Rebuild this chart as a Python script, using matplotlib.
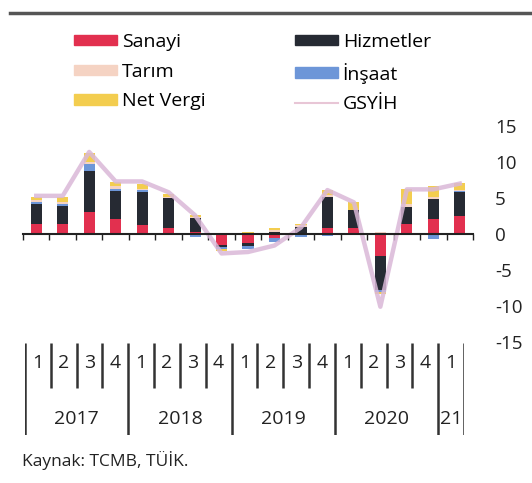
import numpy as np
import matplotlib.pyplot as plt
from matplotlib.patches import Patch
from matplotlib.lines import Line2D

plt.rcParams['font.family'] = ['Open Sans', 'DejaVu Sans']
plt.rcParams['axes.unicode_minus'] = False

# quarters 2017Q1 .. 2021Q1
quarters = ['1', '2', '3', '4', '1', '2', '3', '4', '1', '2', '3', '4',
            '1', '2', '3', '4', '1']
years = ['2017', '2018', '2019', '2020', '21']
year_sizes = [4, 4, 4, 4, 1]

# contributions to growth (pct points)
sanayi = [1.4, 1.4, 3.0, 2.1, 1.3, 0.9, 0.3, -1.5, -1.2, -0.5, 0.2, 0.8,
          0.8, -3.0, 1.4, 2.1, 2.5]
hizmetler = [2.8, 2.5, 5.7, 3.9, 4.6, 4.1, 1.9, -0.3, -0.4, 0.3, 0.8, 4.3,
             2.5, -4.8, 2.3, 2.8, 3.3]
insaat = [0.2, 0.2, 1.0, 0.3, 0.2, 0.0, -0.4, -0.3, -0.5, -0.6, -0.4, -0.3,
          -0.1, -0.3, 0.0, -0.7, 0.2]
tarim = [0.3, 0.4, 0.3, 0.4, 0.2, 0.1, 0.2, 0.1, 0.2, 0.3, 0.2, 0.3,
         0.1, 0.3, 0.4, 0.3, 0.1]
net_vergi = [0.5, 0.6, 1.2, 0.5, 0.7, 0.4, 0.3, -0.3, 0.1, 0.2, 0.2, 0.7,
             1.0, -0.2, 2.1, 1.4, 1.0]
gsyih = [5.3, 5.3, 11.4, 7.3, 7.3, 5.8, 2.6, -2.7, -2.5, -1.6, 0.9, 6.1,
         4.4, -10.1, 6.2, 6.2, 7.0]

components = [
    ('Sanayi', sanayi, '#e2304f'),
    ('Hizmetler', hizmetler, '#262a33'),
    ('İnşaat', insaat, '#6d96d8'),
    ('Tarım', tarim, '#f5d3c3'),
    ('Net Vergi', net_vergi, '#f3cd4f'),
]
line_color = '#dab8d8'

W, H = 532, 483
fig = plt.figure(figsize=(W / 100, H / 100), dpi=100)
ax = fig.add_axes([23 / W, 1 - 342 / H, 450 / W, 216 / H])

x = np.arange(len(quarters))
pos_base = np.zeros(len(x))
neg_base = np.zeros(len(x))
for name, vals, col in components:
    v = np.array(vals)
    base = np.where(v >= 0, pos_base, neg_base)
    ax.bar(x, v, 0.42, bottom=base, color=col, zorder=2)
    pos_base += np.clip(v, 0, None)
    neg_base += np.clip(v, None, 0)

ax.plot(x, gsyih, color=line_color, lw=3.2, alpha=0.85, zorder=3,
        solid_joinstyle='round')

ax.set_xlim(-0.5, len(x) - 0.5)
ax.set_ylim(-15, 15)
for s in ['top', 'left', 'right']:
    ax.spines[s].set_visible(False)
ax.spines['bottom'].set_position(('data', 0))
ax.spines['bottom'].set_linewidth(1.5)
ax.spines['bottom'].set_color('#222222')
ax.spines['bottom'].set_zorder(4)
ax.set_xticks([])
ax.set_xticks(np.arange(-0.5, len(x), 1), minor=True)
ax.tick_params(axis='x', which='minor', length=4, width=1, direction='out',
               color='#222222')
ax.yaxis.tick_right()
ax.set_yticks([-15, -10, -5, 0, 5, 10, 15])
ax.tick_params(axis='y', length=0, pad=16, labelsize=13.5, labelcolor='#222222')

# legend (column-wise fill: left column first)
handles = [Patch(color=components[0][2]), Patch(color=components[3][2]),
           Patch(color=components[4][2]), Patch(color=components[1][2]),
           Patch(color=components[2][2]), Line2D([], [], color='#e8c6d6', lw=1.5)]
labels = ['Sanayi', 'Tarım', 'Net Vergi', 'Hizmetler', 'İnşaat', 'GSYİH']
ax.legend(handles, labels, ncol=2, loc='upper left',
          bbox_to_anchor=(74 / W, 1 - 33 / H), bbox_transform=fig.transFigure,
          frameon=False, fontsize=14, handlelength=2.2, handleheight=0.45,
          handletextpad=0.26, labelspacing=0.6, columnspacing=4.6,
          borderpad=0, borderaxespad=0)

# top rule
fig.add_artist(Line2D([10 / W, 1], [1 - 13 / H, 1 - 13 / H], color='#555555', lw=2.5))

# category table under the chart
tx = fig.add_axes([25 / W, 1 - 435 / H, 439 / W, 92 / H])
tx.set_xlim(0, len(quarters))
tx.set_ylim(0, 1)
tx.axis('off')
edges = np.cumsum([0] + year_sizes)
for i in range(len(quarters) + 1):
    bottom = 0 if i in edges else 0.51
    tx.plot([i, i], [bottom, 1], color='#333333', lw=1.8, solid_capstyle='butt')
for i, q in enumerate(quarters):
    tx.text(i + 0.5, 0.78, q, ha='center', va='center', fontsize=14, color='#222222')
for j, yr in enumerate(years):
    tx.text((edges[j] + edges[j + 1]) / 2, 0.17, yr, ha='center', va='center',
            fontsize=14, color='#222222')

fig.text(22 / W, 1 - 460 / H, 'Kaynak: TCMB, TÜİK.', fontsize=12.5, va='center',
         color='#222222')

fig.savefig('out.png', dpi=100)
